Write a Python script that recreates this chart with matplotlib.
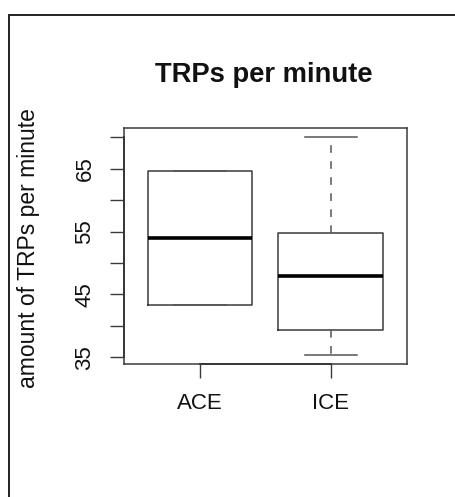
import matplotlib
matplotlib.use("Agg")
import matplotlib.pyplot as plt
from matplotlib.patches import Rectangle
from matplotlib.lines import Line2D

plt.rcParams['font.family'] = ['Liberation Sans', 'DejaVu Sans']

# Data
groups = ["ACE", "ICE"]
whislo = [43.4, 35.3]
q1 = [43.4, 39.4]
med = [54.0, 47.9]
q3 = [64.7, 54.8]
whishi = [64.7, 70.0]
yticks = [35, 40, 45, 50, 55, 60, 65, 70]
yticklabels = ["35", "", "45", "", "55", "", "65", ""]
title = "TRPs per minute"
ylabel = "amount of TRPs per minute"

W, H = 456, 497
fig = plt.figure(figsize=(W / 100, H / 100), dpi=100)
fig.patch.set_facecolor("white")

# axes box in pixels
x0, x1, ytop, ybot = 124, 406.7, 128.3, 364.3
ax = fig.add_axes([x0 / W, 1 - ybot / H, (x1 - x0) / W, (ybot - ytop) / H])

stats = []
for i in range(len(groups)):
    stats.append(dict(label=groups[i], whislo=whislo[i], q1=q1[i], med=med[i],
                      q3=q3[i], whishi=whishi[i], fliers=[]))

positions = list(range(1, len(groups) + 1))
lc = "#3a3a3a"
ax.bxp(stats, positions=positions, widths=0.8, showfliers=False,
       capwidths=0.4,
       boxprops=dict(color=lc, lw=1.1),
       medianprops=dict(color="black", lw=2.6, solid_capstyle="butt"),
       whiskerprops=dict(color="#555555", lw=1.1, linestyle=(0, (5, 5.5))),
       capprops=dict(color="#555555", lw=1.1))

ax.set_xlim(0.42, 2.58)
ax.set_ylim(33.89, 71.43)

for s in ax.spines.values():
    s.set_color(lc)
    s.set_linewidth(1.1)

ax.set_yticks(yticks)
ax.set_yticklabels(yticklabels, rotation=90, va="center", fontsize=16, color="#111111")
ax.set_xticks(positions)
ax.set_xticklabels(groups, fontsize=16, color="#111111")
ax.tick_params(axis="both", direction="out", length=10, width=1.0, color=lc)
ax.tick_params(axis="y", pad=10.5)
ax.tick_params(axis="x", pad=11)

# R-style axis lines along the ticks
ax.add_line(Line2D([0, 0], [yticks[0], yticks[-1]], transform=ax.get_yaxis_transform(),
                   color="#222222", lw=1.3, clip_on=False))
ax.add_line(Line2D([positions[0], positions[-1]], [0, 0], transform=ax.get_xaxis_transform(),
                   color="#222222", lw=1.3, clip_on=False))

fig.text(264 / W, 1 - 82 / H, title, ha="center", va="baseline",
         fontsize=19.7, fontweight="bold", color="#111111")
fig.text(35.5 / W, 1 - 248 / H, ylabel, rotation=90, rotation_mode="anchor",
         ha="center", va="baseline", fontsize=16.5, color="#111111")

# outer frame (partially visible)
fig.add_artist(Rectangle((9.5 / W, -0.2), 2.0, 1 - 14.5 / H + 0.2, transform=fig.transFigure,
                         fill=False, edgecolor="#222222", lw=1.4))

fig.savefig("out.png", dpi=100)
